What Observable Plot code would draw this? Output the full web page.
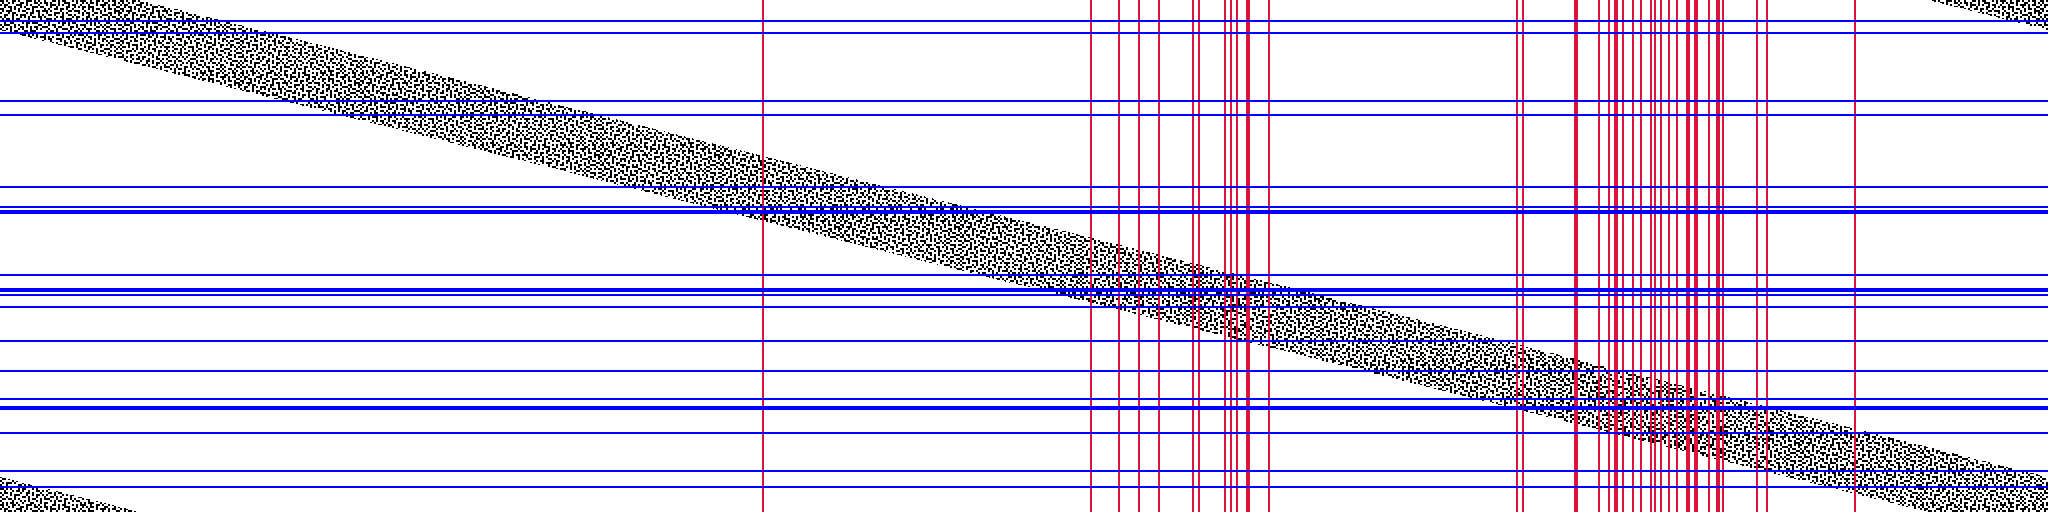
<!DOCTYPE html>
<html><head><meta charset="utf-8">
<script src="https://cdn.jsdelivr.net/npm/d3@7"></script>
<script src="https://cdn.jsdelivr.net/npm/@observablehq/plot@0.6"></script>
<style>html,body{margin:0;padding:0;background:#fff}svg{display:block}</style>
</head><body><div id="chart"></div>
<script>
const redX = [763,1091,1119,1139,1159,1193,1199,1225,1231,1237,1247,1249,1269,1517,1523,1575,1577,1599,1609,1615,1617,1623,1633,1641,1651,1655,1661,1669,1677,1687,1689,1695,1697,1709,1717,1719,1723,1757,1767,1855];
const blueY = [21,33,101,115,187,207,211,213,275,289,291,295,307,341,371,399,407,409,433,471,487];
// Band edges
const edgeX = [0,400,763,1280,1848,2048];
const upperY = [-35,65,156,285,427,477];
const lowerY = [30,130,221,350,492,542];
const wrapLeftX = [0,140];
const wrapLeftTop = [477,512];
const wrapLeftBottom = [512,512];
const wrapRightX = [1928,2048];
const wrapRightTop = [0,0];
const wrapRightBottom = [0,30];
// Hand-typed speckle texture (style only, one character per 2px cell)
const speckleTile = [
"11.1..11.1...111.1.1..1...11.1.11...1.1.111..1..11.1..1.11..",
".1..1.1...11.1...11.1.11.1...1..111...1..1.1.11.1...11...1.1",
"1.11....111..1.1...1...1.111.1.1..1.11..1...1...1.111.1.11..",
"..1.11.1..1.1...111.11...1..1....11..1.1.11.111....1..1...11",
"11...1.1.1...11.1.....1.1..11.11.1..1....1..1.1.11..1.11.1..",
".1.111...1.11...1.11.111.1....1...11.111..1...1...1.1....111",
"1...1.11.....1.11..1...1...111.1.1.....1.1.11..11.1...11.1.1",
"..11..1.1.111..1...1.1..11.1...1..11.1...1..1.1....111.1...1",
"1.1...1...1.1.1.11.11.1.....1.11....1.11...11...1.1...1.11..",
".1.11.1.11....1.....1..111.1...1.111..1..1.1.1.11...1.1...11",
"11..1...1.111...1.1.1.1...11.1....1...1.11...1...11.1..111..",
"..1..11....1.11.111...1.1....1.11.1.11.....1.1.1.1...11...1.",
"1.111..1.1...1.....11...1.11...1..1...1.111..1.1..1.1..1.1.1",
".1...1.1..11.1.1.11..111...1.11....11.1...1.....11.1.11.....",
"1..1.1...1.1...1..1.1...1...1..111.1...1.1.111.1....1..111.1",
".11..1.11...11.111.....1.11.1.....1..11.1...1...11.1.1...1..",
"1...11.1..1...1...1.11.1..1...11.1.1...1...1.11..1...1.11..1",
".1.1....1.111.1.1.1...1.....11.1...1.1.111.1...1.11.1...1.1.",
"1..1.11.1.....11..1.111.1.1....1.11.1.....1.11...1...11.1...",
"..11...1..11.1...1....1.11..111...1...11.1...1.1.1.11....111",
"11...1.11...1.1.11.1.1...1....1.1..1.1...1.1...1...1.1.11...",
".1.11.....1.1....1.11..11.1.1...11.1..11...111.1.1....1...11",
"1...1.111.1...11.1...1.....1.11.1.....1.1.1...11..11.1.11...",
".11.1...1...1.1...1.1.111.1....1..111.1...1.11....1....1.1.1",
"1.....1.1.11..1.11.....1...11.1.1...1..11...1.1.1...111...1.",
".1.111.1...1.1...1.11.1.1.1...1...1.1.1...11....1.11...1.1..",
"1..1.....11.1.11...1...1...1.11.11...1..1.1..11.1...1.1...11",
".1...11.1.....1.1..1.111.1....1...1.11.1...1..1..11...11.1..",
"11.1.1...1.11...1.1.....1.11.1.1.1....1.11.1...1...1.1...1.1",
"..1...1.11.1..1...11.1.1....1...1..111.....1.11.1.1...11....",
"1.11.1....1..11.1...1...11.1.11...1...1.11...1....1.1...111.",
".1...1.111...1..1.11.1.1...1...1.1.11.1...1.1.11.1...1.1...1",
"1..1...1...11.1...1...1..11.1.1....1...11.1.....1.11...11.1.",
".11.11.1.1....1.11..1.111...1...11.1.1...1.11.1...1.1.....11",
"1.....1...1.1.1...1.1....1.1.11.1...1.11....1...11.1..11.1..",
".1.1.11.1..1...11...1.11...1....1.1.....1.1.111...1.1...1.1."
];
const tileCell = 2;
const chart = Plot.plot({
  width: 2048, height: 512, margin: 0,
  x: {domain: [0, 2048], range: [0, 2048], axis: null},
  y: {domain: [0, 512], range: [0, 512], axis: null},
  marks: [
    Plot.areaY(edgeX, {x: edgeX, y1: upperY, y2: lowerY, fill: "url(#speckle)", shapeRendering: "crispEdges"}),
    Plot.areaY(wrapLeftX, {x: wrapLeftX, y1: wrapLeftTop, y2: wrapLeftBottom, fill: "url(#speckle)", shapeRendering: "crispEdges"}),
    Plot.areaY(wrapRightX, {x: wrapRightX, y1: wrapRightTop, y2: wrapRightBottom, fill: "url(#speckle)", shapeRendering: "crispEdges"}),
    Plot.ruleX(redX, {stroke: "#dc143c", strokeWidth: 2, dx: -0.5, shapeRendering: "crispEdges"}),
    Plot.ruleY(blueY, {stroke: "#0000ff", strokeWidth: 2, dy: -0.5, shapeRendering: "crispEdges"})
  ]
});
const ns = "http://www.w3.org/2000/svg";
const defs = document.createElementNS(ns, "defs");
const pattern = document.createElementNS(ns, "pattern");
pattern.setAttribute("id", "speckle");
pattern.setAttribute("patternUnits", "userSpaceOnUse");
pattern.setAttribute("width", 60 * tileCell);
pattern.setAttribute("height", speckleTile.length * tileCell);
speckleTile.forEach((row, r) => [...row].forEach((c, k) => {
  if (c !== "1") return;
  const cell = document.createElementNS(ns, "rect");
  cell.setAttribute("x", k * tileCell);
  cell.setAttribute("y", r * tileCell);
  cell.setAttribute("width", tileCell);
  cell.setAttribute("height", tileCell);
  cell.setAttribute("fill", "#000");
  pattern.append(cell);
}));
defs.append(pattern);
chart.prepend(defs);
document.getElementById("chart").append(chart);
</script></body></html>
